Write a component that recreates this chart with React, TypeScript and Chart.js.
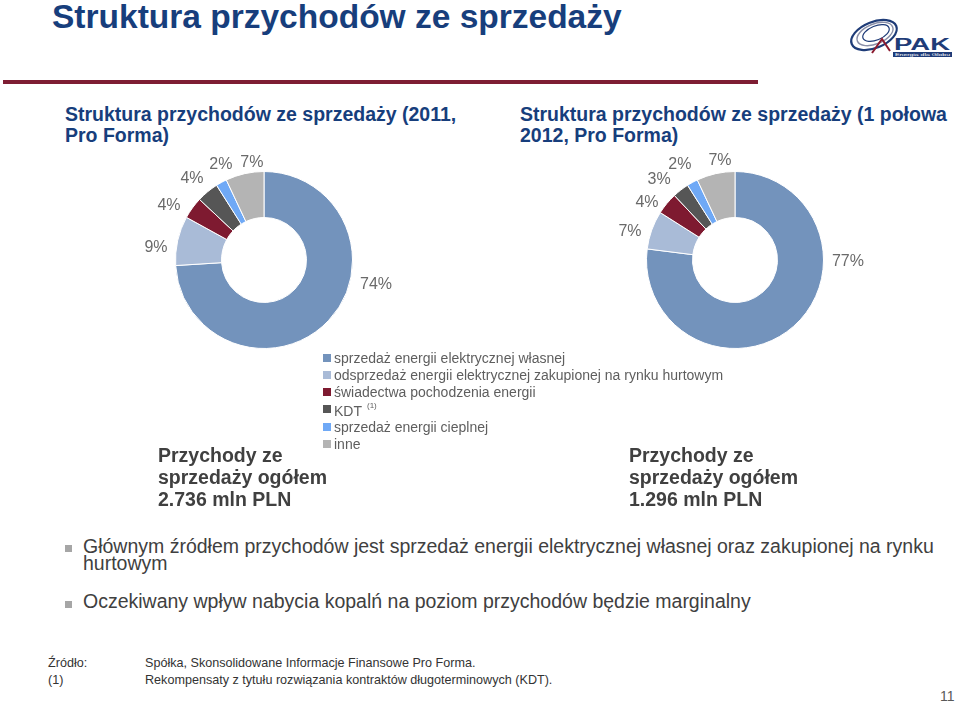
import React, { useEffect, useRef } from "react";
import { Chart, registerables } from "chart.js";

Chart.register(...registerables);

// ---------- data ----------
const categories = [
  "sprzedaż energii elektrycznej własnej",
  "odsprzedaż energii elektrycznej zakupionej na rynku hurtowym",
  "świadectwa pochodzenia energii",
  "KDT",
  "sprzedaż energii cieplnej",
  "inne",
];
const values2011 = [74, 9, 4, 4, 2, 7];
const valuesH1_2012 = [77, 7, 4, 3, 2, 7];
const sliceColors = ["#7393BC", "#A9BBD7", "#7E1A30", "#565656", "#6FA9F6", "#B4B4B4"];

const pageTitle = "Struktura przychodów ze sprzedaży";
const leftTitle = ["Struktura przychodów ze sprzedaży (2011,", "Pro Forma)"];
const rightTitle = ["Struktura przychodów ze sprzedaży (1 połowa", "2012, Pro Forma)"];
const leftTotal = ["Przychody ze", "sprzedaży ogółem", "2.736 mln PLN"];
const rightTotal = ["Przychody ze", "sprzedaży ogółem", "1.296 mln PLN"];
const bullets = [
  ["Głównym źródłem przychodów jest sprzedaż energii elektrycznej własnej oraz zakupionej na rynku", "hurtowym"],
  ["Oczekiwany wpływ nabycia kopalń na poziom przychodów będzie marginalny"],
];
const footnotes = [
  ["Źródło:", "Spółka, Skonsolidowane Informacje Finansowe Pro Forma."],
  ["(1)", "Rekompensaty z tytułu rozwiązania kontraktów długoterminowych (KDT)."],
];
const pageNumber = "11";

// label placement (degrees clockwise from 12 o'clock, and gap beyond the outer edge)
const leftLabelAngles = [102.6, 276.3, 299.6, 318.4, 335.6, 352.9];
const leftLabelGaps = [26.3, 20.2, 20.8, 19.9, 15.8, 9.2];
const rightLabelAngles = [91, 284.9, 302.9, 316.5, 329.9, 351.4];
const rightLabelGaps = [24.5, 20.2, 16.3, 21.8, 21.3, 11.6];

const FONT = "'Liberation Sans', Arial, Helvetica, sans-serif";
const NAVY = "#173E7C";

// ---------- label plugin ----------
const outsideLabels = {
  id: "outsideLabels",
  afterDatasetsDraw(chart: any, _args: any, opts: any) {
    const ctx = chart.ctx;
    const meta = chart.getDatasetMeta(0);
    const data = chart.data.datasets[0].data as number[];
    ctx.save();
    ctx.font = `16px ${FONT}`;
    ctx.fillStyle = "#6A6A6A";
    ctx.textAlign = "center";
    ctx.textBaseline = "middle";
    meta.data.forEach((arc: any, i: number) => {
      const p = arc.getProps(["x", "y", "startAngle", "endAngle", "outerRadius"], true);
      let a = (p.startAngle + p.endAngle) / 2;
      let d = p.outerRadius + 20;
      if (opts.angles && opts.angles[i] != null) {
        a = ((opts.angles[i] - 90) * Math.PI) / 180;
        d = p.outerRadius + opts.gaps[i];
      }
      ctx.fillText(`${data[i]}%`, p.x + Math.cos(a) * d, p.y + Math.sin(a) * d);
    });
    ctx.restore();
  },
};

function Donut(props: { values: number[]; left: number; top: number; angles: number[]; gaps: number[] }) {
  const ref = useRef<HTMLCanvasElement>(null);
  useEffect(() => {
    const chart = new Chart(ref.current as HTMLCanvasElement, {
      type: "doughnut",
      data: {
        labels: categories,
        datasets: [
          {
            data: props.values,
            backgroundColor: sliceColors,
            borderColor: "#FFFFFF",
            borderWidth: 1,
          },
        ],
      },
      options: {
        responsive: false,
        animation: false,
        cutout: "48%",
        layout: { padding: 41 },
        plugins: {
          legend: { display: false },
          tooltip: { enabled: false },
          outsideLabels: { angles: props.angles, gaps: props.gaps },
        } as any,
      },
      plugins: [outsideLabels as any],
    });
    return () => chart.destroy();
  }, []);
  return (
    <canvas
      ref={ref}
      width={300}
      height={260}
      style={{ position: "absolute", left: props.left, top: props.top, width: 300, height: 260 }}
    />
  );
}

function Lines(props: {
  lines: string[];
  left: number;
  top: number;
  size: number;
  lh: number;
  color: string;
  bold?: boolean;
}) {
  return (
    <div
      style={{
        position: "absolute",
        left: props.left,
        top: props.top,
        fontFamily: FONT,
        fontSize: props.size,
        lineHeight: `${props.lh}px`,
        fontWeight: props.bold ? "bold" : "normal",
        color: props.color,
        whiteSpace: "nowrap",
      }}
    >
      {props.lines.map((l, i) => (
        <div key={i}>{l}</div>
      ))}
    </div>
  );
}

function Logo() {
  return (
    <svg width={110} height={46} style={{ position: "absolute", left: 846, top: 15 }} viewBox="0 0 110 46">
      <g fill="none" strokeLinecap="round">
        <ellipse cx="28" cy="20" rx="24" ry="13" transform="rotate(-22 28 20)" stroke="#1F3C78" strokeWidth="2.2" />
        <ellipse cx="29" cy="19" rx="19" ry="10" transform="rotate(-22 29 19)" stroke="#8A8FA8" strokeWidth="1.4" />
        <ellipse cx="30" cy="18" rx="14" ry="7" transform="rotate(-22 30 18)" stroke="#1F3C78" strokeWidth="1.2" />
      </g>
      <path d="M26 38 L36 24 L44 36" fill="none" stroke="#8B1A2E" strokeWidth="2" />
      <text x="48" y="35" fontFamily={FONT} fontWeight="bold" fontSize="16" fill="#1F3C78" textLength="56" lengthAdjust="spacingAndGlyphs">
        PAK
      </text>
      <rect x="47" y="37" width="59" height="5" fill="#1F3C78" />
      <text x="49" y="41" fontFamily={FONT} fontSize="4" fill="#FFFFFF" textLength="55" lengthAdjust="spacingAndGlyphs">
        Energia dla Globu
      </text>
    </svg>
  );
}

export default function App() {
  const legendTop = 349.5;
  const legendStep = 17.3;
  return (
    <div
      style={{
        position: "fixed",
        left: 0,
        top: 0,
        width: 960,
        height: 704,
        background: "#FFFFFF",
        overflow: "hidden",
        fontFamily: FONT,
      }}
    >
      {/* page title */}
      <Lines lines={[pageTitle]} left={52} top={0} size={33.5} lh={33} color={NAVY} bold />
      <div style={{ position: "absolute", left: 3, top: 80, width: 755, height: 4, background: "#7E1D33" }} />
      <Logo />

      {/* chart titles */}
      <Lines lines={leftTitle} left={65} top={103.5} size={19.5} lh={21.5} color={NAVY} bold />
      <Lines lines={rightTitle} left={520} top={103.5} size={19.5} lh={21.5} color={NAVY} bold />

      {/* charts */}
      <Donut values={values2011} left={114} top={130} angles={leftLabelAngles} gaps={leftLabelGaps} />
      <Donut values={valuesH1_2012} left={585} top={130} angles={rightLabelAngles} gaps={rightLabelGaps} />

      {/* legend */}
      {categories.map((c, i) => (
        <div
          key={i}
          style={{
            position: "absolute",
            left: 323,
            top: legendTop + i * legendStep,
            height: 16,
            display: "flex",
            alignItems: "center",
            fontSize: 14,
            lineHeight: "16px",
            color: "#5E5E5E",
            whiteSpace: "nowrap",
          }}
        >
          <span style={{ display: "inline-block", width: 8, height: 8, background: sliceColors[i], marginRight: 3 }} />
          <span>
            {c}
            {c === "KDT" ? (
              <sup style={{ fontSize: 8, marginLeft: 5, position: "relative", top: -2 }}>(1)</sup>
            ) : null}
          </span>
        </div>
      ))}

      {/* totals */}
      <Lines lines={leftTotal} left={158} top={444} size={19.5} lh={22} color="#404040" bold />
      <Lines lines={rightTotal} left={629} top={444} size={19.5} lh={22} color="#404040" bold />

      {/* bullets */}
      <div style={{ position: "absolute", left: 65, top: 545, width: 7, height: 7, background: "#A6A6A6" }} />
      <Lines lines={bullets[0]} left={83} top={537.5} size={19.5} lh={17} color="#404040" />
      <div style={{ position: "absolute", left: 65, top: 601, width: 7, height: 7, background: "#A6A6A6" }} />
      <Lines lines={bullets[1]} left={83} top={593} size={19.5} lh={17} color="#404040" />

      {/* footnotes */}
      {footnotes.map((f, i) => (
        <React.Fragment key={i}>
          <Lines lines={[f[0]]} left={48} top={655 + i * 17} size={12.6} lh={16} color="#333333" />
          <Lines lines={[f[1]]} left={145} top={655 + i * 17} size={12.6} lh={16} color="#333333" />
        </React.Fragment>
      ))}

      <Lines lines={[pageNumber]} left={940} top={688} size={14} lh={16} color="#595959" />
    </div>
  );
}
